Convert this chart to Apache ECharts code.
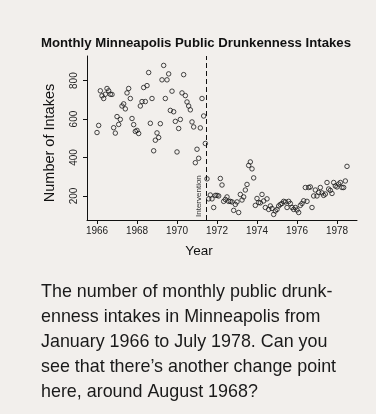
<!DOCTYPE html>
<html>
<head>
<meta charset="utf-8">
<script src="https://cdn.jsdelivr.net/npm/echarts@6/dist/echarts.min.js"></script>
<style>
  html, body { margin: 0; padding: 0; background: #f2efec; }
  #chart { width: 376px; height: 414px; }
</style>
</head>
<body>
<div id="chart"></div>
<script>
// Monthly public drunkenness intakes, Minneapolis, one array per year (Jan..Dec)
const intakes1966 = [530, 567, 747, 721, 707, 729, 759, 747, 729, 728, 555, 527];
const intakes1967 = [613, 572, 598, 668, 679, 653, 736, 759, 707, 603, 571, 536];
const intakes1968 = [541, 525, 668, 691, 764, 691, 774, 842, 578, 707, 435, 490];
const intakes1969 = [528, 504, 576, 804, 879, 707, 804, 835, 645, 745, 638, 588];
const intakes1970 = [429, 551, 598, 736, 831, 722, 689, 668, 648, 585, 559, 373];
const intakes1971 = [443, 396, 554, 707, 616, 473, 289, 185, 205, 185, 140, 203];
const intakes1972 = [203, 200, 291, 257, 172, 182, 195, 172, 172, 169, 125, 156];
const intakes1973 = [169, 114, 208, 179, 195, 231, 260, 359, 377, 341, 294, 151];
const intakes1974 = [187, 166, 164, 208, 174, 140, 185, 130, 148, 135, 104, 122];
const intakes1975 = [130, 148, 156, 161, 172, 169, 140, 172, 161, 140, 130, 140];
const intakes1976 = [127, 114, 151, 161, 175, 244, 172, 244, 247, 140, 200, 231];
const intakes1977 = [200, 218, 244, 216, 203, 210, 270, 236, 229, 213, 270, 252];
const intakes1978 = [247, 262, 270, 244, 244, 278, 354];

const years = [1966, 1967, 1968, 1969, 1970, 1971, 1972, 1973, 1974, 1975, 1976, 1977, 1978];
const yearlyIntakes = [intakes1966, intakes1967, intakes1968, intakes1969, intakes1970,
  intakes1971, intakes1972, intakes1973, intakes1974, intakes1975, intakes1976,
  intakes1977, intakes1978];

const xTickYears = [1966, 1968, 1970, 1972, 1974, 1976, 1978];
const yTickValues = [200, 400, 600, 800];
const interventionYear = 1971.46;

const titleText = 'Monthly Minneapolis Public Drunkenness Intakes';
const captionText = 'The number of monthly public drunk-\nenness intakes in Minneapolis from\nJanuary 1966 to July 1978. Can you\nsee that there\u2019s another change point\nhere, around August 1968?';

// month m of a year sits at year + m/12
const points = [];
years.forEach((yr, i) => {
  yearlyIntakes[i].forEach((v, m) => points.push([yr + m / 12, v]));
});

const font = '"Liberation Sans", Arial, Helvetica, sans-serif';
const chart = echarts.init(document.getElementById('chart'), null, { renderer: 'canvas' });

chart.setOption({
  backgroundColor: '#f2efec',
  animation: false,
  title: [
    {
      text: titleText,
      left: 41,
      top: 37,
      padding: 0,
      textStyle: { fontFamily: font, fontSize: 13.2, fontWeight: 'bold', color: '#111' }
    },
    {
      text: captionText,
      left: 41,
      top: 280,
      padding: 0,
      textStyle: { fontFamily: font, fontSize: 17.9, fontWeight: 'normal', color: '#1a1a1a', lineHeight: 24.8 }
    }
  ],
  grid: { left: 87, top: 56, width: 270, height: 164 },
  xAxis: {
    type: 'value',
    min: 1965.5,
    max: 1979,
    name: 'Year',
    nameLocation: 'middle',
    nameGap: 24,
    nameTextStyle: { fontFamily: font, fontSize: 13.5, color: '#111', padding: [0, 46, 0, 0] },
    axisLine: { show: true, lineStyle: { color: '#111', width: 1 } },
    axisTick: { show: true, length: 4, lineStyle: { color: '#111' }, customValues: xTickYears },
    axisLabel: { fontFamily: font, fontSize: 10, color: '#222', margin: 6, customValues: xTickYears,
      formatter: v => String(Math.round(v)) },
    splitLine: { show: false }
  },
  yAxis: {
    type: 'value',
    min: 75,
    max: 928,
    name: 'Number of Intakes',
    nameLocation: 'middle',
    nameGap: 30,
    nameRotate: 90,
    nameTextStyle: { fontFamily: font, fontSize: 14.5, color: '#111', padding: [0, 10, 0, 0] },
    axisLine: { show: true, lineStyle: { color: '#111', width: 1 } },
    axisTick: { show: true, length: 4, lineStyle: { color: '#111' }, customValues: yTickValues },
    axisLabel: { fontFamily: font, fontSize: 10, color: '#222', rotate: 90, margin: 8, customValues: yTickValues },
    splitLine: { show: false }
  },
  series: [{
    type: 'scatter',
    data: points,
    symbol: 'circle',
    symbolSize: 4.5,
    itemStyle: { color: 'rgba(0,0,0,0)', borderColor: '#1a1a1a', borderWidth: 1 },
    markLine: {
      silent: true,
      symbol: 'none',
      lineStyle: { color: '#111', width: 1, type: [5, 3] },
      label: {
        show: true,
        position: 'insideStartTop',
        formatter: 'Intervention',
        fontFamily: font,
        fontSize: 8,
        color: '#333',
        distance: 3
      },
      data: [{ xAxis: interventionYear }]
    }
  }]
});
</script>
</body>
</html>
